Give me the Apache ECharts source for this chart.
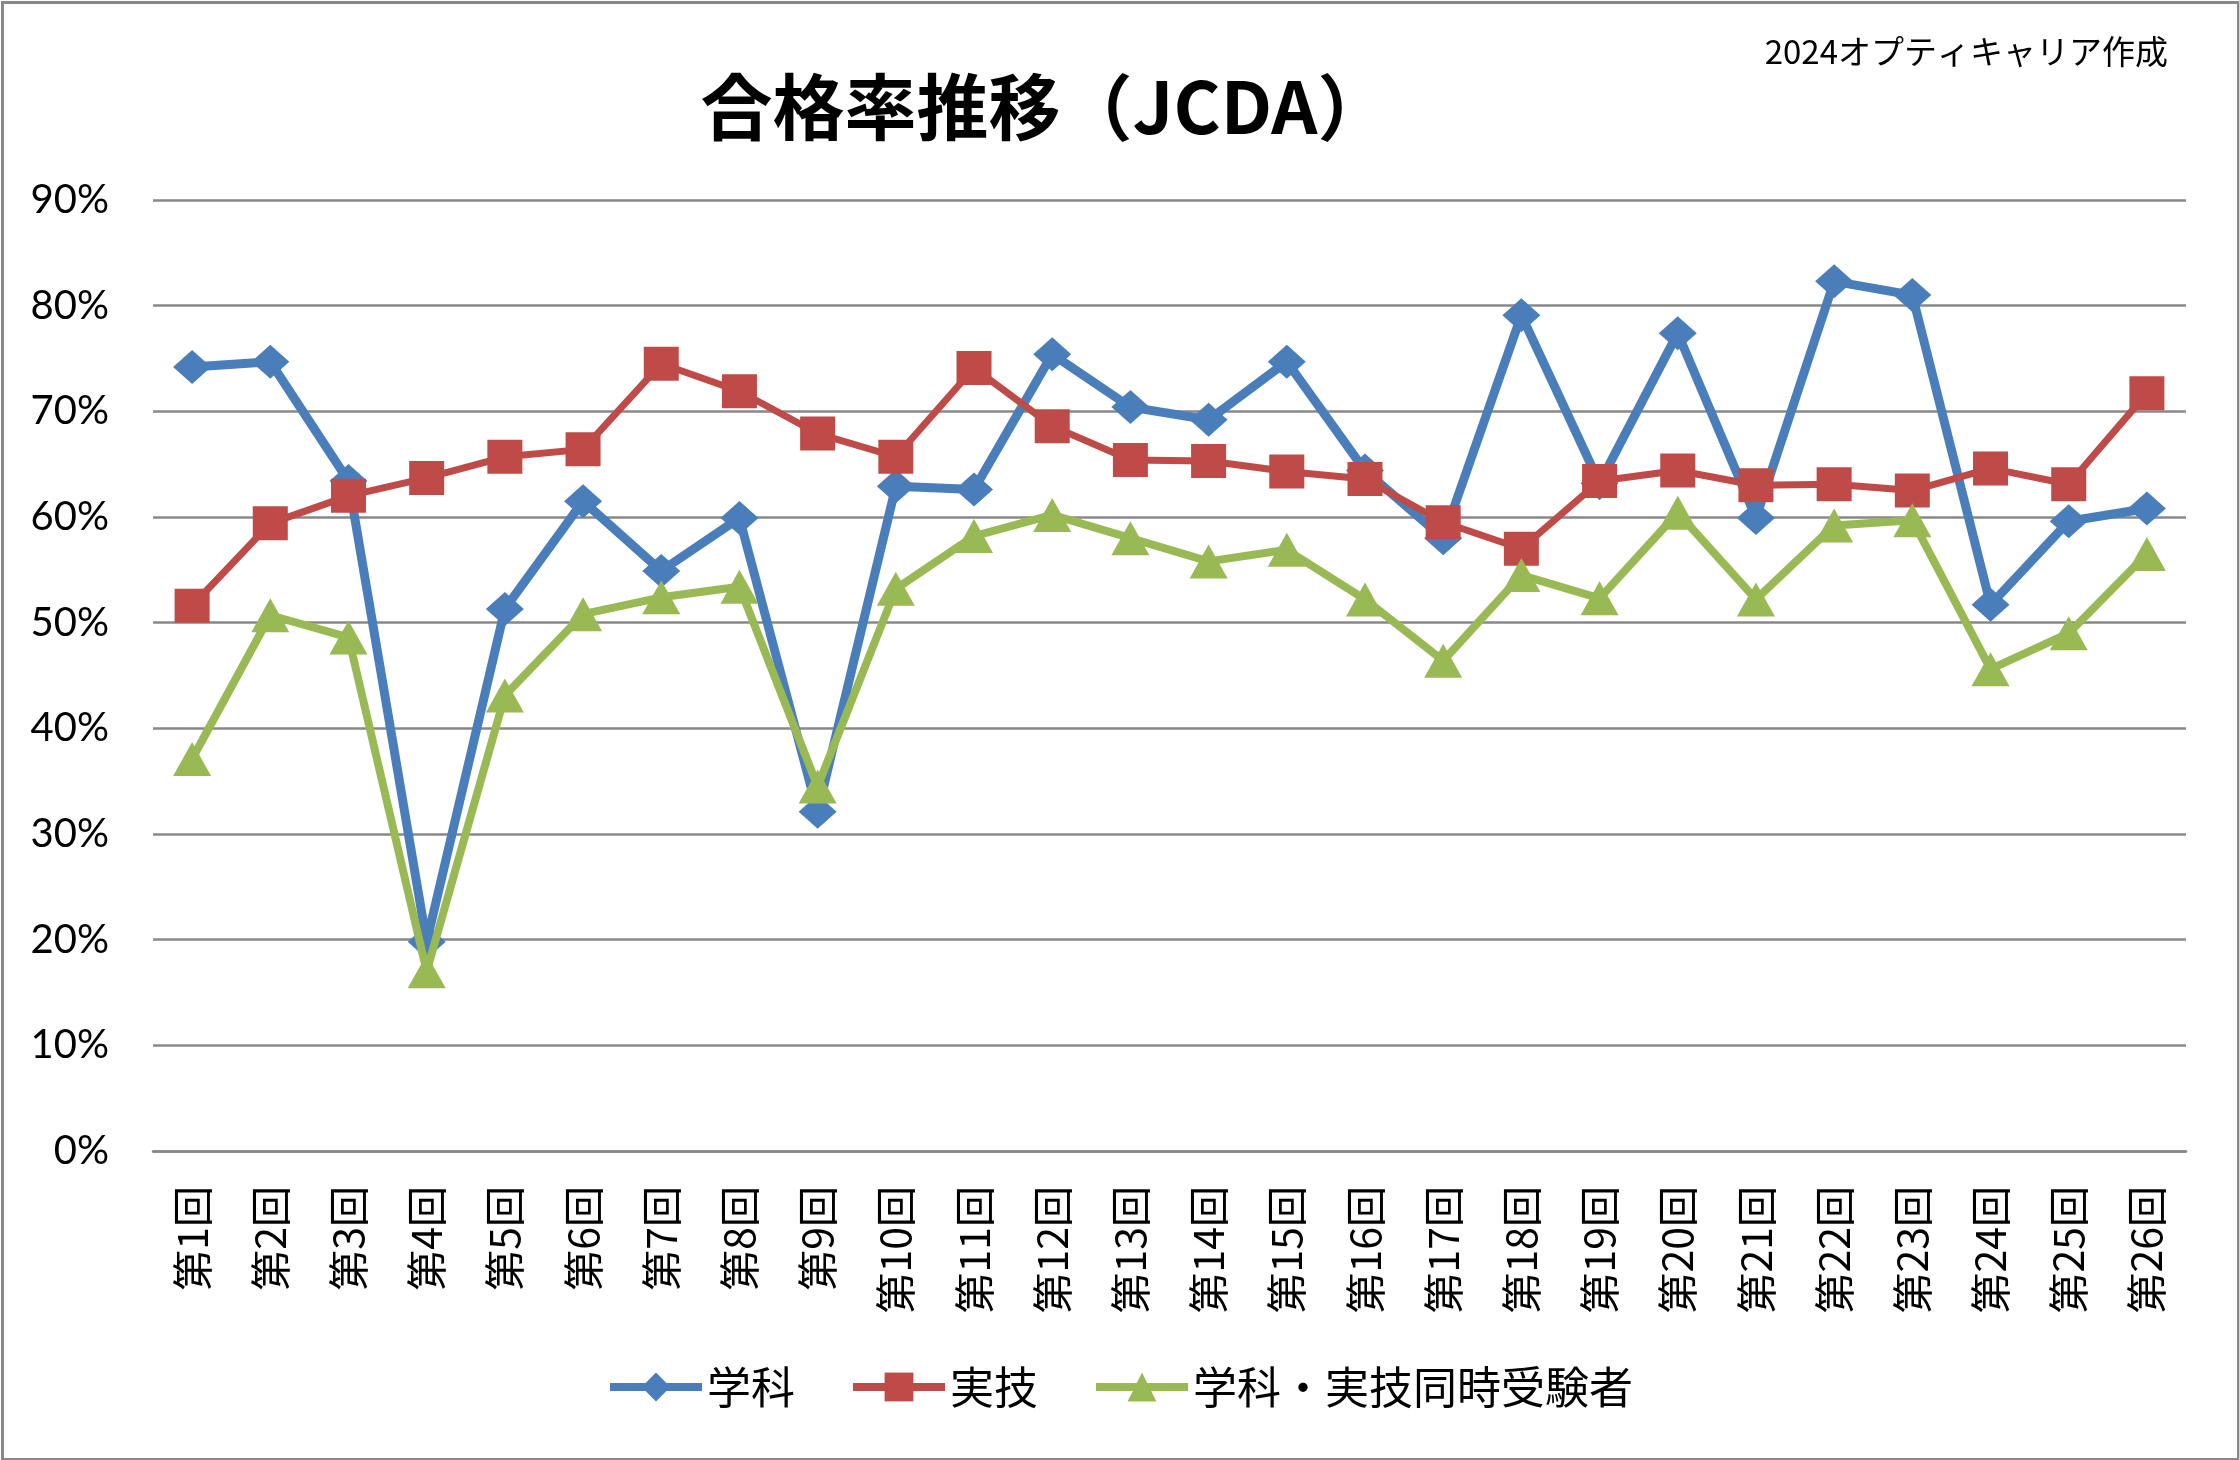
<!DOCTYPE html>
<html><head><meta charset="utf-8">
<script src="https://cdn.jsdelivr.net/npm/echarts@6/dist/echarts.min.js"></script>
<style>html,body{margin:0;padding:0;background:#fff;}#c{width:2239px;height:1460px;}</style>
</head><body><div id="c"></div>
<script>
const categories = ['第1回','第2回','第3回','第4回','第5回','第6回','第7回','第8回','第9回','第10回','第11回','第12回','第13回','第14回','第15回','第16回','第17回','第18回','第19回','第20回','第21回','第22回','第23回','第24回','第25回','第26回'];
const gakka = [74.2,74.7,63.4,19.8,51.3,61.5,54.9,59.9,32.1,62.9,62.6,75.4,70.4,69.2,74.7,64.4,58.0,79.1,63.2,77.4,59.9,82.3,81.0,51.7,59.6,60.8];
const jitsugi = [51.6,59.4,62.0,63.7,65.7,66.4,74.5,71.9,67.9,65.7,74.1,68.6,65.4,65.3,64.3,63.6,59.5,57.0,63.4,64.4,63.0,63.1,62.5,64.6,63.1,71.7];
const douji = [37.1,50.7,48.6,17.0,43.1,50.8,52.4,53.4,34.5,53.2,58.2,60.2,58.0,55.8,56.9,52.2,46.4,54.5,52.3,60.4,52.2,59.2,59.7,45.6,49.0,56.5];
const yTicks = [0,10,20,30,40,50,60,70,80,90];
const seriesNames = ['学科','実技','学科・実技同時受験者'];

const chart = echarts.init(document.getElementById('c'));
const CJK = '"Noto Sans CJK JP", "Noto Sans", sans-serif';
chart.setOption({
  backgroundColor: '#fff',
  animation: false,
  graphic: [{
    type: 'rect', left: 0, top: 0, z: -1,
    shape: { x: 1.5, y: 1.5, width: 2236, height: 1457 },
    style: { fill: 'none', stroke: '#888', lineWidth: 3 }
  }],
  title: [{
    text: '合格率推移（JCDA）',
    left: 1040, top: 66, textAlign: 'center',
    textStyle: { fontFamily: CJK, fontSize: 72, fontWeight: 'bold', color: '#000' }
  }, {
    text: '2024オプティキャリア作成',
    right: 66, top: 30,
    textStyle: { fontFamily: CJK, fontSize: 33, fontWeight: 'normal', color: '#000' }
  }],
  legend: {
    data: seriesNames,
    left: 'center', top: 1360,
    itemWidth: 92, itemHeight: 36, itemGap: 54,
    lineStyle: { width: 8 },
    textStyle: { fontFamily: CJK, fontSize: 44, color: '#000' }
  },
  grid: { left: 153, right: 53, top: 200, bottom: 309, containLabel: false },
  xAxis: {
    type: 'category', data: categories, boundaryGap: true,
    axisLine: { show: true, lineStyle: { color: '#888', width: 2.5 } },
    axisTick: { show: false },
    axisLabel: { rotate: 90, margin: 35, fontFamily: CJK, fontSize: 41, color: '#000', interval: 0 }
  },
  yAxis: {
    type: 'value', min: yTicks[0], max: yTicks[yTicks.length - 1], interval: 10,
    axisLine: { show: false }, axisTick: { show: false },
    splitLine: { show: true, lineStyle: { color: '#888', width: 2.5 } },
    axisLabel: { margin: 44, fontFamily: 'Lato, "Noto Sans", sans-serif', fontSize: 40, color: '#000', formatter: v => v + '%' }
  },
  series: [{
    name: seriesNames[0], type: 'line', data: gakka,
    symbol: 'diamond', symbolSize: [38, 34],
    lineStyle: { color: '#4A7EBB', width: 9 },
    itemStyle: { color: '#4A7EBB' }, z: 3
  }, {
    name: seriesNames[1], type: 'line', data: jitsugi,
    symbol: 'rect', symbolSize: [35, 34],
    lineStyle: { color: '#BE4B48', width: 7 },
    itemStyle: { color: '#BE4B48' }, z: 4
  }, {
    name: seriesNames[2], type: 'line', data: douji,
    symbol: 'triangle', symbolSize: [38, 34],
    lineStyle: { color: '#98B954', width: 8 },
    itemStyle: { color: '#98B954' }, z: 5
  }]
});
</script></body></html>
